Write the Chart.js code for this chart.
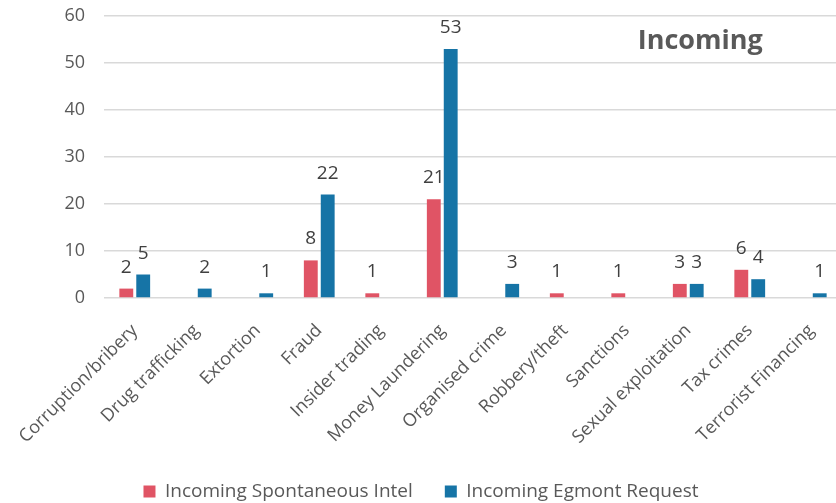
<!DOCTYPE html>
<html>
<head>
<meta charset="utf-8">
<script src="https://cdn.jsdelivr.net/npm/chart.js@4/dist/chart.umd.min.js"></script>
<style>
  html, body { margin: 0; padding: 0; background: #fff; overflow: hidden; }
  #wrap { width: 842px; height: 503px; position: relative; }
</style>
</head>
<body>
<div id="wrap"><canvas id="canvas"></canvas></div>
<script>
var categories = ['Corruption/bribery', 'Drug trafficking', 'Extortion', 'Fraud', 'Insider trading',
  'Money Laundering', 'Organised crime', 'Robbery/theft', 'Sanctions', 'Sexual exploitation',
  'Tax crimes', 'Terrorist Financing'];
var spontaneous = [2, 0, 0, 8, 1, 21, 0, 1, 1, 3, 6, 0];
var egmont = [5, 2, 1, 22, 0, 53, 3, 0, 0, 3, 4, 1];
var seriesNames = ['Incoming Spontaneous Intel', 'Incoming Egmont Request'];
var chartTitle = 'Incoming';

var FONT = '"Open Sans", "Liberation Sans", sans-serif';

// value labels above bars (zero values are left out, like the original)
var valueLabels = {
  id: 'valueLabels',
  afterDatasetsDraw: function(chart) {
    var ctx = chart.ctx;
    ctx.save();
    ctx.font = '19px ' + FONT;
    ctx.fillStyle = '#404040';
    ctx.textAlign = 'center';
    ctx.textBaseline = 'alphabetic';
    chart.data.datasets.forEach(function(ds, i) {
      var meta = chart.getDatasetMeta(i);
      meta.data.forEach(function(bar, j) {
        var v = ds.data[j];
        if (!v) return;
        ctx.fillText(String(v), bar.x, bar.y - 16);
      });
    });
    ctx.restore();
  }
};

// title sits inside the plot, top right
var innerTitle = {
  id: 'innerTitle',
  afterDraw: function(chart) {
    var a = chart.chartArea;
    var ctx = chart.ctx;
    ctx.save();
    ctx.font = 'bold 27px ' + FONT;
    ctx.fillStyle = '#595959';
    ctx.textAlign = 'center';
    ctx.textBaseline = 'middle';
    ctx.fillText(chartTitle, a.left + (a.right - a.left) * 0.808, a.top + 25);
    ctx.restore();
  }
};

var ctx = document.getElementById('canvas').getContext('2d');
var myChart = new Chart(ctx, {
  type: 'bar',
  data: {
    labels: categories,
    datasets: [{
      label: seriesNames[0],
      data: spontaneous,
      backgroundColor: '#E05465',
      categoryPercentage: 0.55,
      barPercentage: 0.82
    }, {
      label: seriesNames[1],
      data: egmont,
      backgroundColor: '#1674A6',
      categoryPercentage: 0.55,
      barPercentage: 0.82
    }]
  },
  options: {
    responsive: true,
    maintainAspectRatio: false,
    animation: false,
    layout: { autoPadding: false, padding: { top: 16, left: 0, right: 0, bottom: -8 } },
    plugins: {
      title: { display: false },
      tooltip: { enabled: false },
      legend: {
        position: 'bottom',
        labels: {
          font: { family: FONT, size: 19 },
          color: '#595959',
          boxWidth: 12,
          boxHeight: 12,
          padding: 32
        }
      }
    },
    scales: {
      x: {
        grid: { display: false },
        border: { display: false },
        ticks: {
          color: '#595959',
          font: { family: FONT, size: 18 },
          maxRotation: 45,
          minRotation: 45,
          autoSkip: false,
          padding: 14
        },
        afterFit: function(scale) { scale.height = 152; }
      },
      y: {
        min: 0,
        max: 60,
        grid: { color: '#D9D9D9', lineWidth: 1.5, drawTicks: false },
        border: { display: false },
        ticks: {
          stepSize: 10,
          color: '#595959',
          font: { family: FONT, size: 18 },
          padding: 19
        },
        afterFit: function(scale) {
          scale.width = 104;
          // tick padding would otherwise push the plot top down
          scale.paddingTop = 0;
          scale.paddingBottom = 0;
        }
      }
    }
  },
  plugins: [valueLabels, innerTitle]
});
</script>
</body>
</html>
